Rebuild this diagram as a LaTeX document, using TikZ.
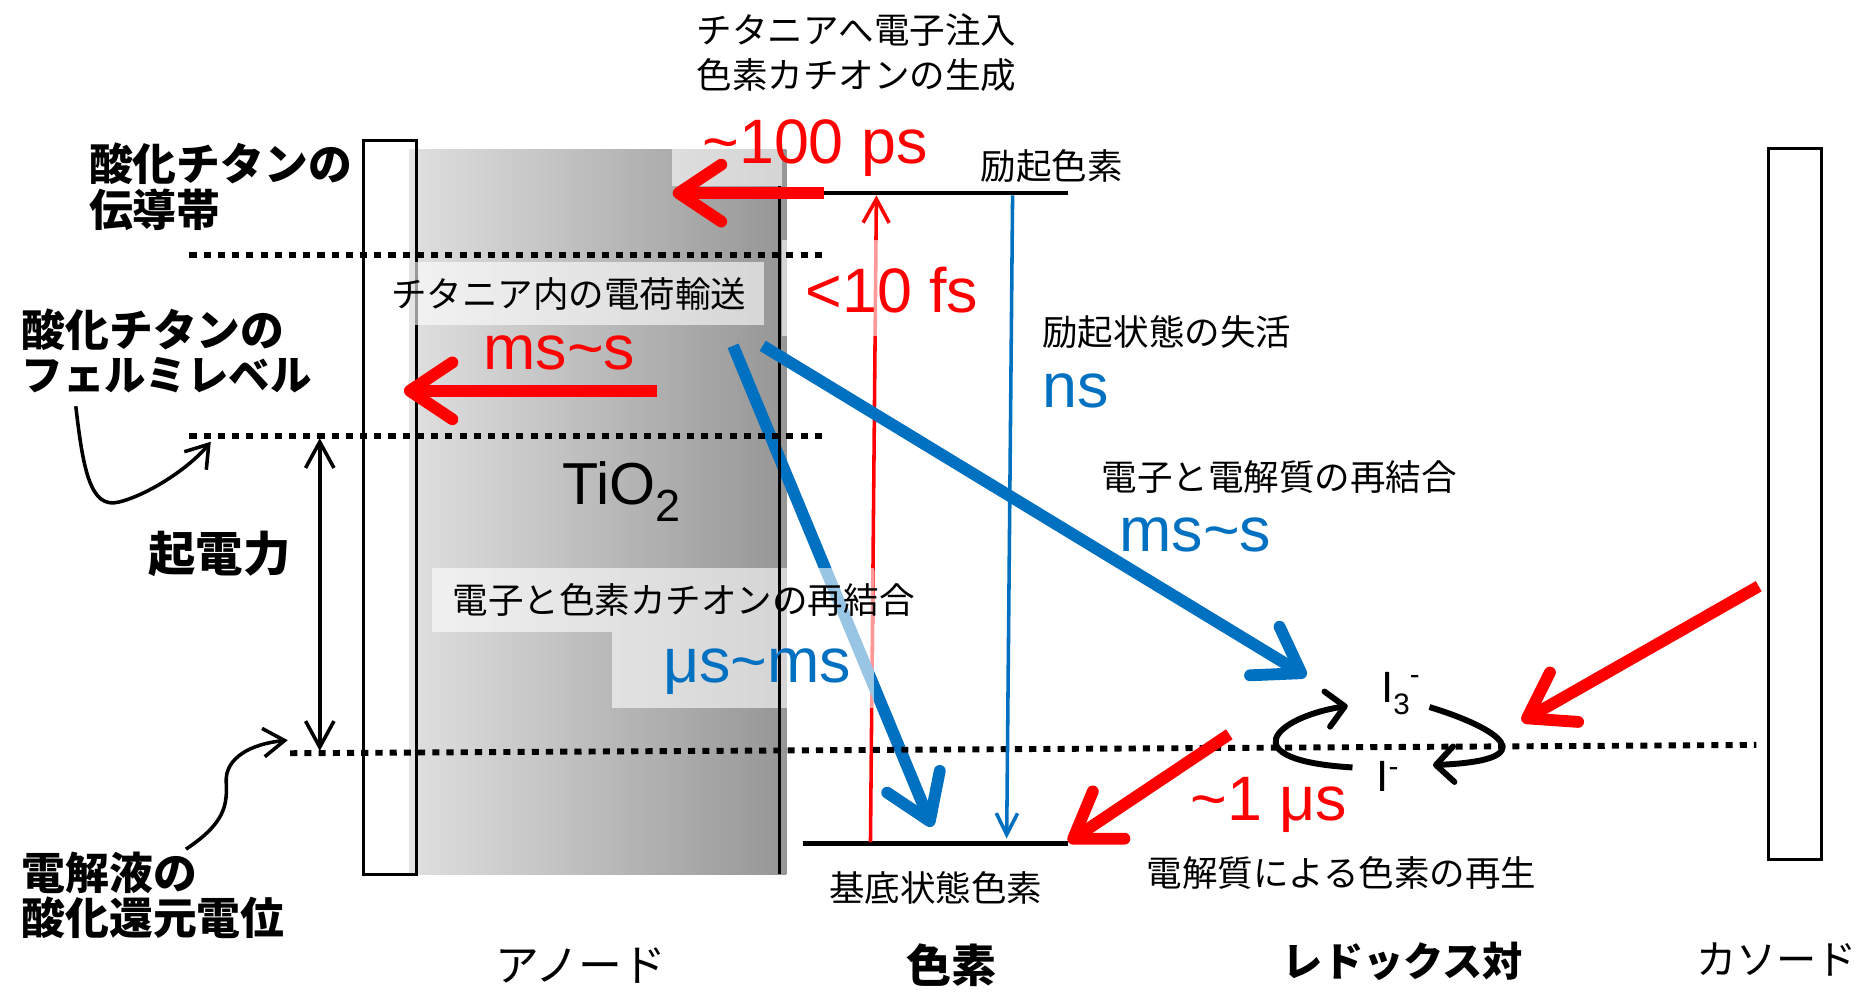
\documentclass[tikz,border=0pt]{standalone}
\usepackage{fontspec}
\setmainfont{Liberation Sans}
\newfontfamily\jp{Noto Sans CJK JP}
\usetikzlibrary{arrows.meta}
\definecolor{myred}{RGB}{255,0,0}
\definecolor{myblue}{RGB}{0,112,192}
\definecolor{tioL}{RGB}{222,222,222}
\definecolor{tioR}{RGB}{150,150,150}
\definecolor{stripc}{RGB}{228,228,228}
\newcommand\fsz[1]{\fontsize{#1}{#1}\selectfont}
\begin{document}
\begin{tikzpicture}[x=1pt,y=-1pt,
  jp/.style={font=\jp\fsz{30}, inner sep=0pt, anchor=west},
  jpb/.style={font=\jp\bfseries\fsz{37}, inner sep=0pt, anchor=west},
  big/.style={font=\fsz{53}, inner sep=0pt, anchor=base west},
  dotline/.style={line width=5pt, dash pattern=on 6pt off 6pt},
  level/.style={line width=4pt},
  veil/.style={fill=white, fill opacity=0.6},
  fat/.style={line width=10pt, -{Straight Barb[length=36pt,width=48pt,round]}},
  slim/.style={line width=3pt, -{Straight Barb[length=20pt,width=22pt]}},
  curv/.style={line width=3pt, -{Straight Barb[length=18pt,width=24pt]}},
  cyc/.style={line width=5pt, -{Straight Barb[length=15pt,width=30pt,round]}},
]
\useasboundingbox (0,0) rectangle (1568,838);

% anode: electrode + TiO2 layer
\shade[left color=tioL, right color=tioR] (352,126) rectangle (664,738);
\fill[white] (307,119) rectangle (345,738);
\fill[stripc] (345,126) rectangle (352,738);
\draw[line width=2.5pt] (307,119) rectangle (352,738);
% cathode
\draw[line width=2.5pt, fill=white] (1493,125) rectangle (1538,726);

% dye levels
\coordinate (exL) at (695,163); \coordinate (exR) at (902,163);
\coordinate (gdL) at (678,712); \coordinate (gdR) at (902,712);
\draw[level] (exL) -- (exR);
\draw[level] (gdL) -- (gdR);

% arrows under the veils
\coordinate (rb) at (735,711); \coordinate (rt) at (740,165);
\draw[slim, myred] (rb) -- (rt);
\coordinate (b1s) at (619,292); \coordinate (b1e) at (787,698);
\draw[fat, myblue] (b1s) -- (b1e);

% veils (label backgrounds)
\fill[veil] (567,126) rectangle (660,157);
\fill[veil] (660,203) rectangle (830,284);
\fill[veil] (350,221) rectangle (645,274);
\fill[veil] (365,480) rectangle (738,534);
\fill[veil] (517,534) rectangle (738,598);

% TiO2 edge
\draw[line width=3pt] (658,157) -- (658,738);

% dotted levels
\coordinate (dA1) at (160,215); \coordinate (dA2) at (695,215);
\coordinate (dB1) at (160,368); \coordinate (dB2) at (695,368);
\coordinate (dC1) at (245,636); \coordinate (dC2) at (1483,629);
\draw[dotline] (dA1) -- (dA2);
\draw[dotline] (dB1) -- (dB2);
\draw[dotline] (dC1) -- (dC2);

% thin blue decay
\coordinate (nt) at (855,165); \coordinate (nb) at (850,708);
\draw[line width=3pt, myblue, -{Straight Barb[length=18pt,width=18pt]}] (nt) -- (nb);

% thick arrows
\coordinate (a1s) at (696,163); \coordinate (a1e) at (568,163);
\draw[fat, myred] (a1s) -- (a1e);
\coordinate (a2s) at (555,330); \coordinate (a2e) at (341,330);
\draw[fat, myred] (a2s) -- (a2e);
\coordinate (a3s) at (644,292); \coordinate (a3e) at (1103,571);
\draw[fat, myblue] (a3s) -- (a3e);
\coordinate (a4s) at (1485,495); \coordinate (a4e) at (1285,609);
\draw[fat, myred] (a4s) -- (a4e);
\coordinate (a5s) at (1038,620); \coordinate (a5e) at (902,711);
\draw[fat, myred] (a5s) -- (a5e);

% photovoltage
\coordinate (vT) at (270,370); \coordinate (vB) at (270,634);
\draw[line width=3pt, {Straight Barb[length=22pt,width=24pt]}-{Straight Barb[length=22pt,width=24pt]}] (vT) -- (vB);

% pointer curves
\coordinate (f1) at (64,343); \coordinate (f2) at (178,373);
\draw[curv] (f1) .. controls (70,395) and (76,430) .. (100,424) .. controls (125,418) and (160,395) .. (f2);
\coordinate (e1) at (157,717); \coordinate (e2) at (243,625);
\draw[curv] (e1) .. controls (190,695) and (192,680) .. (191,660) .. controls (190,640) and (212,628) .. (e2);

% redox cycle
\node[font=\fsz{37}, inner sep=0pt, anchor=base west] (i3) at (1166,593) {I\raisebox{-10pt}{\fsz{25}3}\raisebox{15pt}{\fsz{25}-}};
\node[font=\fsz{37}, inner sep=0pt, anchor=base west] (i1) at (1162,668) {I\raisebox{12pt}{\fsz{25}-}};
\coordinate (c1s) at (1142,648); \coordinate (c1e) at (1138,596);
\draw[cyc] (c1s) .. controls (1040,642) and (1075,606) .. (c1e);
\coordinate (c2s) at (1207,597); \coordinate (c2e) at (1210,646);
\draw[cyc] (c2s) .. controls (1266,615) and (1306,642) .. (c2e);

% Japanese labels
\node[jp] (t1) at (588,25) {チタニアへ電子注入};
\node[jp] (t2) at (588,63) {色素カチオンの生成};
\node[jp] (t3) at (828,140) {励起色素};
\node[jpb] (t4) at (75,138) {酸化チタンの};
\node[jpb] (t5) at (75,177) {伝導帯};
\node[jp] (t6) at (330,248) {チタニア内の電荷輸送};
\node[jp] (t7) at (880,280) {励起状態の失活};
\node[jpb] (t8) at (18,278) {酸化チタンの};
\node[jpb, font=\jp\bfseries\fsz{35}] (t9) at (18,317) {フェルミレベル};
\node[jpb, font=\jp\bfseries\fsz{40}] (t10) at (125,468) {起電力};
\node[jp] (t11) at (930,403) {電子と電解質の再結合};
\node[jp] (t12) at (382,507) {電子と色素カチオンの再結合};
\node[jp] (t13) at (968,737) {電解質による色素の再生};
\node[jp] (t14) at (700,750) {基底状態色素};
\node[jpb] (t15) at (18,737) {電解液の};
\node[jpb] (t16) at (18,775) {酸化還元電位};
\node[jp, font=\jp\fsz{37}] (t17) at (418,815) {アノード};
\node[jpb, font=\jp\bfseries\fsz{38}] (t18) at (765,815) {色素};
\node[jpb, font=\jp\bfseries\fsz{34}] (t19) at (1083,812) {レドックス対};
\node[jp, font=\jp\fsz{34}] (t20) at (1432,810) {カソード};

% time scales
\node[big, myred] (s1) at (593,138) {\textasciitilde100 ps};
\node[big, myred] (s2) at (680,264) {<10 fs};
\node[big, myred] (s3) at (408,312) {ms\textasciitilde s};
\node[big, myblue] (s4) at (880,344) {ns};
\node[big, font=\fsz{50}] (s5) at (475,426) {TiO\raisebox{-14pt}{\fsz{38}2}};
\node[big, myblue] (s6) at (945,466) {ms\textasciitilde s};
\node[big, myblue] (s7) at (560,576) {μs\textasciitilde ms};
\node[big, myred] (s8) at (1005,693) {\textasciitilde1 μs};
\end{tikzpicture}
\end{document}
